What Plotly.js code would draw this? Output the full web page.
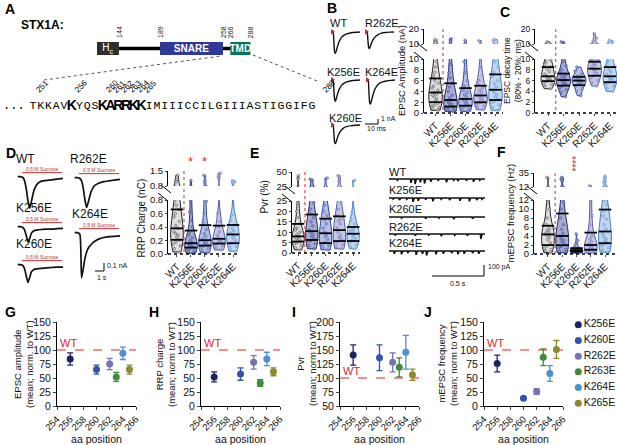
<!DOCTYPE html>
<html><head><meta charset="utf-8">
<script src="https://cdn.plot.ly/plotly-3.0.1.min.js"></script>
<style>html,body{margin:0;padding:0;background:#fff}#chart{width:617px;height:445px}</style>
</head><body><div id="chart"></div>
<script>
// ================= DATA =================
// Panel A: STX1A domains (aa)
const domainNames = ['H<sub>c</sub>', '<b>SNARE</b>', '<b>TMD</b>'];
const domainStart = [120, 189, 266];
const domainEnd = [144, 258, 288];
const domainColors = ['#2e2e2e', '#2f3a96', '#0b7355'];
const seqStart = 251;
const seqLetters = 'TKKAVKYQSKARRKKIMIIICCILGIIIASTIGGIFG';
const seqBold = [256, 260, 261, 262, 263, 264, 265];
const seqMarks = [251, 256, 260, 261, 262, 263, 264, 265, 288];

// Violin groups
const violinGroups = ['WT', 'K256E', 'K260E', 'R262E', 'K264E'];
// B: EPSC amplitude (nA)
const epscAmp = [
  [0.5,0.8,1.0,1.3,1.5,1.8,2.2,2.6,3.0,3.3,3.5,3.8,4.2,4.6,5.0,5.5,6.0,6.8,7.5,8.5,9.5,12.5,13],
  [0.3,0.5,0.7,0.9,1.0,1.2,1.4,1.6,1.8,2.0,2.4,2.8,3.3,4.0,4.8,5.5,6.5,7.5,9.0,12.5,13.5],
  [0.3,0.5,0.8,1.0,1.2,1.5,1.8,2.1,2.3,2.6,3.0,3.4,3.8,4.2,5.0,6.0,7.5,9.5,12.5],
  [0.6,1.0,1.3,1.6,1.9,2.2,2.5,2.8,3.1,3.4,3.8,4.2,4.6,5.2,6.0,7.0,8.5,12.2],
  [0.5,1.0,1.5,1.9,2.2,2.6,3.0,3.4,3.8,4.3,4.8,5.4,6.0,6.8,7.5,8.5,9.5,12.5,13]
];
// C: EPSC decay time (ms)
const epscDecay = [
  [4.5,5.0,5.3,5.6,5.9,6.1,6.3,6.5,6.8,7.2,7.7,8.2,8.5,9.0,9.5,9.8,11.5],
  [3.0,3.8,4.3,4.7,5.0,5.3,5.6,5.8,6.0,6.2,6.5,6.8,7.0,7.4,8.0,8.7,9.5,11.5],
  [3.2,4.0,4.5,5.0,5.3,5.6,5.8,6.0,6.2,6.4,6.6,6.8,7.2,7.8,8.5],
  [5.0,5.6,6.0,6.5,6.9,7.3,7.7,8.0,8.2,8.5,8.8,9.1,9.5,9.8,12,14,17],
  [4.0,4.6,5.0,5.4,5.7,6.0,6.3,6.5,6.8,7.2,7.6,8.0,8.5,9.0,9.6,11.5,12.5]
];
// D: RRP charge (nC)
const rrpCharge = [
  [0.03,0.08,0.12,0.15,0.18,0.21,0.25,0.28,0.30,0.33,0.38,0.42,0.48,0.55,0.60,0.66,0.72,0.78,1.0,1.1,1.3],
  [0.01,0.03,0.05,0.07,0.08,0.10,0.11,0.12,0.13,0.15,0.17,0.20,0.24,0.28,0.33,0.40,0.50,0.62,0.78,1.05],
  [0.02,0.05,0.08,0.10,0.12,0.14,0.16,0.17,0.19,0.22,0.26,0.30,0.36,0.45,0.60,0.78,1.0,1.3],
  [0.06,0.09,0.12,0.14,0.16,0.18,0.19,0.21,0.24,0.28,0.33,0.40,0.48,0.60,1.2,1.4],
  [0.04,0.08,0.11,0.13,0.16,0.20,0.24,0.27,0.29,0.31,0.34,0.38,0.43,0.50,0.58,1.0,1.05]
];
// E: Pvr (%)
const pvr = [
  [1.5,2.5,3.5,4.5,5.0,5.5,6.0,6.5,7.0,7.5,8.0,9.0,10,11,12,14,17,20,24,38,44],
  [2,3.5,4.5,5.5,6.0,7.0,8.0,9.0,10,11,13,15,17,19,21,24,36,38],
  [1.5,2.5,3.5,4.0,5.0,6.5,8.0,9.0,10,12,14,16,18,20,23,40],
  [2,3,4,5,5.5,6.5,7.5,8.5,10,12,14,15.5,16.5,18,21,24,35,44],
  [2,3,4,5,6,7,8,9,9.5,10.5,11,12,14,16,19,36]
];
// F: mEPSC frequency (Hz)
const mepscFreq = [
  [0.3,0.7,1.0,1.3,1.8,2.5,3.2,3.8,4.2,4.5,4.8,5.2,5.6,6.5,8,10,11.5,28],
  [0.3,0.6,1.0,1.3,1.7,2.2,2.7,3.0,3.4,4.0,4.6,5.5,6.5,8,10,11.5,22,25,28],
  [0.1,0.2,0.3,0.4,0.5,0.6,0.7,0.8,0.85,0.9,1.0,1.1,1.3,1.6,2.2,3.0,4.5],
  [0.2,0.4,0.6,0.8,0.9,1.1,1.3,1.5,1.8,2.2,2.7,3.3,4.0,5.0,6.5,8.5,11,14],
  [0.4,0.9,1.4,1.8,2.1,2.5,2.9,3.3,3.8,4.5,5.5,6.5,7.8,8.5,9.5,11,12,20,26,30]
];

// B: example EPSC traces (time ms, current nA)
const epscTime = [0,0.6,1.2,1.8,2.4,3.2,4.2,5.5,7,9,11.5,14.5,18,21];
const epscTraceNames = ['WT','R262E','K256E','K264E','K260E'];
const epscTraces = [
  [0,0,-2.3,-4.4,-4.6,-3.9,-2.9,-1.9,-1.2,-0.7,-0.4,-0.2,-0.1,-0.05],
  [0,0,-1.8,-3.4,-3.6,-3.0,-2.2,-1.5,-1.0,-0.6,-0.3,-0.15,-0.08,-0.04],
  [0,0,-2.2,-4.3,-4.6,-3.8,-2.8,-1.9,-1.2,-0.7,-0.4,-0.2,-0.1,-0.05],
  [0,0,-2.5,-4.9,-5.2,-4.4,-3.3,-2.2,-1.4,-0.8,-0.45,-0.25,-0.12,-0.05],
  [0,0,-1.9,-3.8,-4.0,-3.4,-2.5,-1.7,-1.1,-0.6,-0.35,-0.18,-0.09,-0.04]
];
// D: sucrose responses (time s, current nA)
const sucTime = [0,0.3,0.6,0.8,1.0,1.2,1.4,1.6,1.9,2.3,2.8,3.4,4.0,4.6,5.3];
const sucTraceNames = ['WT','R262E','K256E','K264E','K260E'];
const sucTraces = [
  [0,0,-0.01,-0.05,-0.15,-0.30,-0.39,-0.31,-0.17,-0.09,-0.055,-0.045,-0.04,-0.03,-0.02],
  [0,0,-0.01,-0.04,-0.13,-0.28,-0.37,-0.30,-0.18,-0.10,-0.07,-0.05,-0.04,-0.03,-0.02],
  [0,0,-0.01,-0.04,-0.11,-0.19,-0.15,-0.08,-0.05,-0.04,-0.035,-0.03,-0.03,-0.025,-0.02],
  [0,0,-0.02,-0.56,-0.45,-0.32,-0.24,-0.19,-0.15,-0.11,-0.08,-0.06,-0.05,-0.045,-0.04],
  [0,0,-0.01,-0.05,-0.14,-0.22,-0.16,-0.09,-0.06,-0.05,-0.045,-0.04,-0.035,-0.03,-0.03]
];
const sucroseSpan = [0.5, 5.2];
// E: mEPSC recordings (event times s, amplitudes pA)
const miniNames = ['WT','K256E','K260E','R262E','K264E'];
const miniTimes = [
  [0.08,0.21,0.25,0.30,0.34,0.40,0.47,0.55,0.62,0.66,0.74,0.81,0.87],
  [0.04,0.10,0.17,0.23,0.28,0.35,0.42,0.50,0.58,0.68,0.77,0.84,0.89],
  [0.12,0.35,0.48,0.62,0.80],
  [0.06,0.25,0.38,0.50,0.63,0.75,0.88],
  [0.05,0.12,0.18,0.26,0.32,0.36,0.45,0.52,0.60,0.66,0.72,0.80,0.86]
];
const miniAmps = [
  [-12,-35,-45,-30,-40,-25,-15,-30,-12,-20,-15,-25,-12],
  [-10,-20,-12,-35,-25,-15,-30,-12,-20,-25,-30,-20,-12],
  [-10,-15,-10,-20,-15],
  [-10,-15,-10,-20,-12,-15,-45],
  [-25,-30,-20,-35,-25,-40,-30,-25,-20,-30,-25,-20,-25]
];

// G-J: normalized means by aa position
const mutants = ['K256E','K260E','R262E','R263E','K264E','K265E'];
const aaPos = [256, 260, 262, 263, 264, 265];
const mutColors = ['#1d2466','#3552a8','#7572b8','#3f8a3c','#4b8fd6','#8c8a2c'];
const ampNormMean = [84, 65, 75, 52, 94, 65];
const ampNormSem = [11, 8, 10, 8, 11, 8];
const rrpNormMean = [52, 57, 78, 41, 84, 61];
const rrpNormSem = [9, 11, 12, 6, 12, 7];
const pvrNormMean = [141, 136, 128, 119, 146, 106];
const pvrNormSem = [18, 23, 17, 17, 30, 10];
const freqNormMean = [76, 14, 26, 87, 58, 101];
const freqNormSem = [15, 2, 5, 15, 14, 16];

// ================= LAYOUT HELPERS =================
const W = 617, H = 445;
const px = v => v / W;
const py = v => 1 - v / H;
const FONT = 'Liberation Sans, Arial, sans-serif';
const layout = {
  width: W, height: H, margin: {l:0, r:0, t:0, b:0},
  paper_bgcolor: '#fff', plot_bgcolor: 'rgba(0,0,0,0)',
  showlegend: false, violinmode: 'overlay', barmode: 'overlay',
  font: {family: FONT, size: 10, color: '#111'},
  shapes: [], annotations: []
};
const traces = [];
let nAx = 0;
function axes(x0, x1, yTop, yBot, xo, yo) {
  nAx++;
  const s = nAx === 1 ? '' : String(nAx);
  layout['xaxis' + s] = Object.assign({domain: [px(x0), px(x1)], anchor: 'y' + s, fixedrange: true, showgrid: false, zeroline: false}, xo);
  layout['yaxis' + s] = Object.assign({domain: [py(yBot), py(yTop)], anchor: 'x' + s, fixedrange: true, showgrid: false, zeroline: false}, yo);
  return {xaxis: 'x' + s, yaxis: 'y' + s};
}
function txt(x, y, text, o) {
  layout.annotations.push(Object.assign({xref: 'paper', yref: 'paper', x: px(x), y: py(y), text: text,
    showarrow: false, xanchor: 'left', yanchor: 'middle', font: {size: 10, family: FONT, color: '#111'}}, o || {}));
}
function seg(x0, y0, x1, y1, o) {
  layout.shapes.push(Object.assign({type: 'line', xref: 'paper', yref: 'paper', x0: px(x0), y0: py(y0), x1: px(x1), y1: py(y1),
    line: {color: '#000', width: 1}}, o || {}));
}
function quant(arr, q) {
  const s = [...arr].sort((a, b) => a - b);
  const p = (s.length - 1) * q, i = Math.floor(p);
  return s[i] + (s[Math.min(i + 1, s.length - 1)] - s[i]) * (p - i);
}

// ================= PANEL LETTERS =================
[['A',3,9],['B',325,8],['C',498,12],['D',4,153],['E',248,153],['F',495,152],['G',3,312],['H',147,312],['I',290,312],['J',422,312]]
  .forEach(([l, x, y]) => txt(x, y, '<b>' + l + '</b>', {font: {size: 14, family: FONT, color: '#000'}}));

// ================= PANEL A =================
txt(19, 25, '<b>STX1A:</b>', {font: {size: 12, family: FONT, color: '#000'}});
const aAx = axes(97, 262, 42, 55, {range: [120, 120 + 165 / 0.913], visible: false}, {range: [-0.5, 0.5], visible: false});
traces.push({type: 'scatter', mode: 'lines', x: [domainEnd[0], domainStart[1], null, domainEnd[1], domainStart[2]], y: [0, 0, null, 0, 0],
  line: {color: '#000', width: 3.5}, hoverinfo: 'skip', ...aAx});
traces.push({type: 'bar', orientation: 'h', y: [0, 0, 0], base: domainStart, x: domainEnd.map((e, i) => e - domainStart[i]),
  width: 1, marker: {color: domainColors, line: {width: 0}}, text: domainNames, textposition: 'inside', insidetextanchor: 'middle',
  textangle: 0, constraintext: 'none', textfont: {color: '#fff', size: 10, family: FONT}, hoverinfo: 'skip', ...aAx});
[domainEnd[0], domainStart[1], domainEnd[1], domainStart[2], domainEnd[2]].forEach(v => {
  layout.annotations.push({xref: aAx.xaxis, yref: 'paper', x: v, y: py(40), text: String(v), textangle: -90, showarrow: false,
    xanchor: 'center', yanchor: 'bottom', font: {size: 7, family: FONT, color: '#222'}});
});
seg(44, 80, 221, 56, {line: {color: '#555', width: 1, dash: 'dot'}});
seg(253, 55, 317, 81, {line: {color: '#555', width: 1, dash: 'dot'}});
const seqAx = axes(0, 617, 100, 112, {range: [251 - 33 / 7.75, 251 + (617 - 33) / 7.75], visible: false}, {range: [-1, 1], visible: false});
const seqX = seqLetters.split('').map((c, i) => seqStart + i);
traces.push({type: 'scatter', mode: 'text', x: seqX, y: seqX.map(() => 0), cliponaxis: false,
  text: seqLetters.split('').map((c, i) => seqBold.includes(seqX[i]) ? '<b>' + c + '</b>' : c),
  textposition: 'middle center',
  textfont: {family: seqX.map(v => seqBold.includes(v) ? FONT : 'Liberation Mono, Courier New, monospace'),
             size: seqX.map(v => seqBold.includes(v) ? 14 : 11.5), color: '#000'},
  hoverinfo: 'skip', ...seqAx});
layout.annotations.push({xref: seqAx.xaxis, yref: seqAx.yaxis, x: seqStart - 2.4, y: 0, text: '...', showarrow: false,
  font: {family: 'Liberation Mono, monospace', size: 12, color: '#000'}});
seqMarks.forEach(v => {
  layout.annotations.push({xref: seqAx.xaxis, yref: 'paper', x: v, y: py(97), text: String(v), textangle: -45, showarrow: false,
    xanchor: 'left', yanchor: 'bottom', xshift: -2, font: {size: 8, family: FONT, color: '#000'}});
});

// ================= PANEL B traces =================
const epscBoxes = [[331, 29], [365, 29], [331, 77], [366, 77], [331, 122]];
const epscLabels = [[328, 23], [363, 23], [325, 72], [363, 72], [327, 118]];
epscTraceNames.forEach((n, i) => {
  const [l, t] = epscBoxes[i];
  const ax = axes(l, l + 29, t, t + 28, {range: [-1, 21], visible: false}, {range: [-5.4, 0.6], visible: false});
  traces.push({type: 'scatter', mode: 'lines', x: epscTime, y: epscTraces[i], line: {color: '#111', width: 1.4, shape: 'spline', smoothing: 0.6}, hoverinfo: 'skip', ...ax});
  traces.push({type: 'scatter', mode: 'markers', x: [epscTime[0]], y: [epscTraces[i][0]], marker: {symbol: 'triangle-right', size: 5, color: '#a83232'}, cliponaxis: false, hoverinfo: 'skip', ...ax});
  txt(epscLabels[i][0], epscLabels[i][1], n, {font: {size: 11, family: FONT, color: '#111'}});
});
seg(365, 124, 378, 124); seg(378, 124, 378, 119);
txt(379, 118, '1 nA', {font: {size: 7, family: FONT}});
txt(365, 129, '10 ms', {font: {size: 7, family: FONT}});

// ================= VIOLIN PANELS =================
const vLine = ['#222222', '#1f2a78', '#2d43a0', '#55589f', '#3f7cc4'];
const vFill = ['rgba(150,150,150,0.30)', 'rgba(40,52,140,0.40)', 'rgba(50,75,170,0.35)', 'rgba(95,97,180,0.35)', 'rgba(80,140,210,0.35)'];
const vPt = ['#d0d0d0', '#8f98d8', '#9aa9e0', '#b4b4e2', '#aacbf0'];
function violinPanel(c) {
  const tf = c.tickfs || 9.5;
  const low = axes(c.x0, c.x1, c.lowTop, c.lowBot,
    {range: c.xr, tickvals: [0, 1, 2, 3, 4], ticktext: violinGroups, tickangle: -45, ticks: 'outside', ticklen: 2, showline: false,
     tickfont: {size: 10, family: FONT, color: '#111'}},
    {range: c.lowRange, tickvals: c.lowTicks, tickformat: c.fmt || '', ticks: 'outside', ticklen: 2, showline: true, linewidth: 1,
     linecolor: '#000', tickfont: {size: tf, family: FONT, color: '#111'}});
  const up = axes(c.x0, c.x1, c.upTop, c.upBot, {range: c.xr, visible: false},
    {range: c.upRange, tickvals: c.upTicks, tickformat: c.fmt || '', ticks: 'outside', ticklen: 2, showline: true, linewidth: 1,
     linecolor: '#000', tickfont: {size: tf, family: FONT, color: '#111'}});
  [low, up].forEach(ax => {
    c.data.forEach((d, i) => {
      traces.push({type: 'violin', x0: i, y: d, name: violinGroups[i], spanmode: 'hard', scalemode: 'width', width: 0.9,
        line: {color: vLine[i], width: 1}, fillcolor: vFill[i], points: 'all', pointpos: 0, jitter: 0.7,
        marker: {size: 2.6, color: vPt[i], line: {color: vLine[i], width: 0.4}},
        box: {visible: false}, meanline: {visible: false}, hoverinfo: 'skip', ...ax});
    });
  });
  const qx = [], qy = [];
  c.data.forEach((d, i) => { [0.25, 0.5, 0.75].forEach(q => { qx.push(i); qy.push(quant(d, q)); }); });
  traces.push({type: 'scatter', mode: 'markers', x: qx, y: qy, marker: {symbol: 'line-ew', size: 9, line: {color: '#000', width: 1.8}}, hoverinfo: 'skip', ...low});
  // separator between WT and mutants
  const sx = c.x0 + (0.5 - c.xr[0]) / (c.xr[1] - c.xr[0]) * (c.x1 - c.x0);
  seg(sx, c.upTop, sx, c.lowBot, {line: {color: '#e0242c', width: 1, dash: 'dot'}});
  // dotted x axis
  seg(c.x0, c.lowBot, c.x1, c.lowBot, {line: {color: '#000', width: 1.4, dash: 'dot'}});
  // axis break marks
  seg(c.x0 - 7, c.upBot - 1, c.x0 + 3, c.upBot + 7, {line: {color: '#000', width: 1}});
  seg(c.x0 - 10, c.lowTop - 7, c.x0, c.lowTop + 1, {line: {color: '#000', width: 1}});
  txt(c.tx, (c.upTop + c.lowBot) / 2 + (c.tdy || 0), c.title, {textangle: -90, xanchor: 'center', yanchor: 'middle',
    font: {size: c.tfs || 10, family: FONT, color: '#111'}});
  return low;
}
violinPanel({x0: 424, x1: 503, lowTop: 59, lowBot: 113, upTop: 29, upBot: 44, xr: [-0.77, 4.5],
  lowRange: [0, 10], upRange: [10, 20], lowTicks: [0, 2, 4, 6, 8, 10], upTicks: [10, 20], data: epscAmp,
  title: 'EPSC Amplitude (nA)', tx: 401, tfs: 9.5});
violinPanel({x0: 535, x1: 617, lowTop: 59, lowBot: 113, upTop: 29, upBot: 44, xr: [-0.84, 4.45],
  lowRange: [0, 10], upRange: [10, 20], lowTicks: [0, 2, 4, 6, 8, 10], upTicks: [10, 20], data: epscDecay,
  title: 'EPSC decay time<br>(80% - 20%; ms)', tx: 512, tfs: 8.5, tickfs: 8.5});
const dLow = violinPanel({x0: 168, x1: 240, lowTop: 200, lowBot: 254, upTop: 171, upBot: 186, xr: [-0.64, 4.5],
  lowRange: [0, 0.8], upRange: [0.8, 1.5], lowTicks: [0, 0.2, 0.4, 0.6, 0.8], upTicks: [0.8, 1.5], fmt: '.1f', data: rrpCharge,
  title: 'RRP Charge (nC)', tx: 141, tdy: 6});
violinPanel({x0: 292, x1: 360, lowTop: 201, lowBot: 253, upTop: 172, upBot: 187, xr: [-0.44, 4.5],
  lowRange: [0, 25], upRange: [25, 50], lowTicks: [0, 5, 10, 15, 20, 25], upTicks: [25, 50], data: pvr,
  title: 'Pvr (%)', tx: 264, tdy: -15});
const fLow = violinPanel({x0: 534, x1: 617, lowTop: 200, lowBot: 254, upTop: 173, upBot: 187, xr: [-0.98, 4.84],
  lowRange: [0, 12], upRange: [12, 35], lowTicks: [0, 2, 4, 6, 8, 10, 12], upTicks: [12, 35], data: mepscFreq,
  title: 'mEPSC frequency (Hz)', tx: 510, tfs: 9.5});
[1, 2].forEach(i => layout.annotations.push({xref: dLow.xaxis, yref: 'paper', x: i, y: py(161), text: '*', showarrow: false,
  font: {size: 13, color: '#e0242c', family: FONT}}));
layout.annotations.push({xref: fLow.xaxis, yref: 'paper', x: 2, y: py(164), text: '****', textangle: -90, showarrow: false,
  font: {size: 10, color: '#e0242c', family: FONT}});

// ================= PANEL D traces =================
const sucBoxes = [[16, 167], [73, 168], [16, 217], [73, 223], [16, 255]];
const sucLabels = [[14, 159], [68, 159], [14, 208], [70, 214], [14, 244]];
sucTraceNames.forEach((n, i) => {
  const [l, t] = sucBoxes[i];
  const ax = axes(l, l + 47, t, t + 58, {range: [-0.2, 5.3], visible: false}, {range: [-0.6, 0.12], visible: false});
  traces.push({type: 'scatter', mode: 'lines', x: sucTime, y: sucTraces[i], line: {color: '#111', width: 1.7, shape: 'spline', smoothing: 0.5}, hoverinfo: 'skip', ...ax});
  traces.push({type: 'scatter', mode: 'lines', x: sucroseSpan, y: [0.05, 0.05], line: {color: '#c0302f', width: 1}, hoverinfo: 'skip', ...ax});
  layout.annotations.push({xref: ax.xaxis, yref: ax.yaxis, x: (sucroseSpan[0] + sucroseSpan[1]) / 2, y: 0.095, text: '0.5 M Sucrose',
    showarrow: false, font: {size: 5, color: '#c0302f', family: FONT}});
  txt(sucLabels[i][0], sucLabels[i][1], n, {font: {size: 12, family: FONT, color: '#111'}});
});
seg(95, 271, 104, 271); seg(104, 271, 104, 263);
txt(105, 265, '0.1 nA', {font: {size: 7, family: FONT}});
txt(95, 277, '1 s', {font: {size: 7, family: FONT}});

// ================= PANEL E traces =================
const miniBase = [179, 198, 217, 234, 251];
const miniLabelY = [172, 190, 209, 227, 243];
miniNames.forEach((n, i) => {
  const top = miniBase[i] - 3.3;
  const ax = axes(389, 485, top, top + 16, {range: [0, 0.92], visible: false}, {range: [-115, 30], visible: false});
  const xs = [0], ys = [0];
  miniTimes[i].forEach((t, k) => { xs.push(t - 0.004, t, t + 0.012); ys.push(0, miniAmps[i][k], 0); });
  xs.push(0.92); ys.push(0);
  traces.push({type: 'scatter', mode: 'lines', x: xs, y: ys, line: {color: '#111', width: 1.6}, hoverinfo: 'skip', ...ax});
  txt(387, miniLabelY[i], n, {font: {size: 11, family: FONT, color: '#111'}});
});
seg(432, 276, 484, 276); seg(484, 276, 484, 265);
txt(458, 283, '0.5 s', {xanchor: 'center', font: {size: 7, family: FONT}});
txt(486, 267, '100 pA', {font: {size: 7, family: FONT}});

// ================= PANELS G-J =================
function meanPanel(c) {
  const ax = axes(c.x0, c.x0 + 79, 322, 406,
    {range: [254, 266], tickvals: [254, 256, 258, 260, 262, 264, 266], tickangle: -45, ticks: 'outside', ticklen: 3,
     showline: true, linecolor: '#000', linewidth: 1, tickfont: {size: 9.5, family: FONT, color: '#111'},
     title: {text: 'aa position', font: {size: 10.5, family: FONT, color: '#111'}, standoff: 2}},
    {range: c.yr, dtick: 25, ticks: 'outside', ticklen: 3, showline: true, linecolor: '#000', linewidth: 1,
     tickfont: {size: 10.5, family: FONT, color: '#111'}});
  traces.push({type: 'scatter', mode: 'lines', x: [254, 266], y: [100, 100], line: {color: '#e0242c', width: 1.2, dash: 'dash'}, hoverinfo: 'skip', ...ax});
  mutants.forEach((m, i) => {
    traces.push({type: 'scatter', mode: 'markers', x: [aaPos[i]], y: [c.mean[i]], name: m,
      marker: {size: 7, color: mutColors[i]}, cliponaxis: false,
      error_y: {type: 'data', array: [c.sem[i]], visible: true, color: mutColors[i], thickness: 1.3, width: 3},
      hoverinfo: 'skip', ...ax});
  });
  layout.annotations.push({xref: ax.xaxis, yref: ax.yaxis, x: 254.2, y: 100, text: 'WT', showarrow: false, xanchor: 'left', yanchor: 'bottom',
    yshift: -1, font: {size: 11, color: '#e0242c', family: FONT}});
  txt(c.tx, 364, c.title, {textangle: -90, xanchor: 'center', yanchor: 'middle', font: {size: 9.5, family: FONT, color: '#111'}});
}
meanPanel({x0: 57, yr: [0, 150], mean: ampNormMean, sem: ampNormSem, title: 'EPSC amplitude<br>(mean; norm. to WT)', tx: 23});
meanPanel({x0: 201, yr: [0, 150], mean: rrpNormMean, sem: rrpNormSem, title: 'RRP charge<br>(mean; norm to WT)', tx: 165});
meanPanel({x0: 340, yr: [50, 200], mean: pvrNormMean, sem: pvrNormSem, title: 'Pvr<br>(mean; norm to WT)', tx: 306});
meanPanel({x0: 484, yr: [0, 150], mean: freqNormMean, sem: freqNormSem, title: 'mEPSC frequency<br>(mean; norm to WT)', tx: 447});

// legend built from mutant arrays
const legAx = axes(574, 617, 317, 411, {range: [0, 1], visible: false}, {range: [5.5, -0.5], visible: false});
traces.push({type: 'scatter', mode: 'markers+text', x: mutants.map(() => 0.1), y: mutants.map((m, i) => i), text: mutants,
  textposition: 'middle right', cliponaxis: false, marker: {size: 7, color: mutColors},
  textfont: {size: 10.5, family: FONT, color: '#111'}, hoverinfo: 'skip', ...legAx});

Plotly.newPlot('chart', traces, layout, {staticPlot: true, displayModeBar: false});
</script>
</body></html>
